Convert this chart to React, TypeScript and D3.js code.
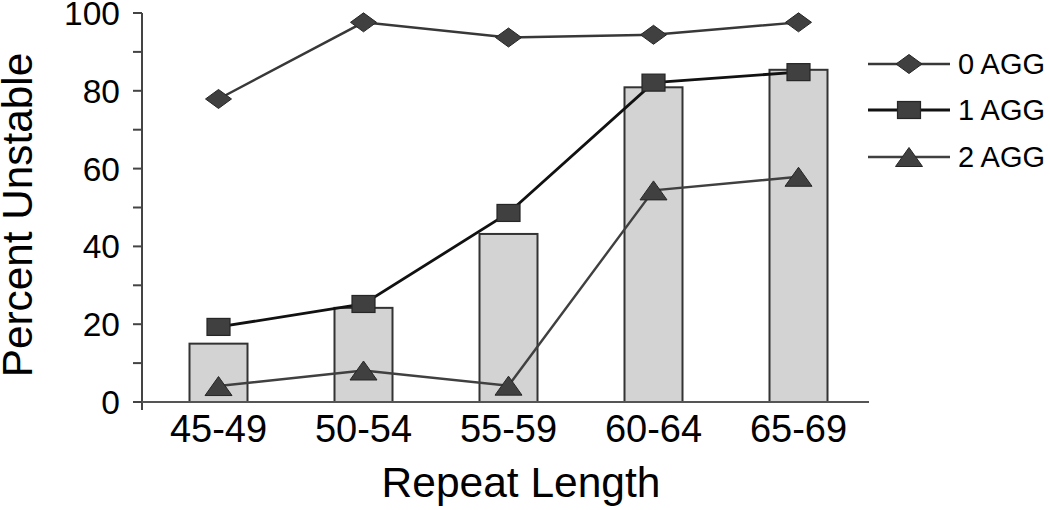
import React from "react";
import * as d3 from "d3";

const categories = ["45-49", "50-54", "55-59", "60-64", "65-69"];
const barValues = [15, 24.2, 43.2, 80.9, 85.4];
const agg0 = [77.9, 97.6, 93.7, 94.4, 97.6];
const agg1 = [19.3, 25.2, 48.6, 82.1, 84.8];
const agg2 = [4.1, 8.1, 4.2, 54.4, 57.9];
const yTicks = [0, 20, 40, 60, 80, 100];
const yMinorTicks = [10, 30, 50, 70, 90];
const seriesNames = ["0 AGG", "1 AGG", "2 AGG"];

const FONT = "'Liberation Sans', Arial, sans-serif";

type Shape = "diamond" | "square" | "triangle";

function Marker({ shape, x, y }: { shape: Shape; x: number; y: number }) {
  const fill = "#404040";
  const stroke = "#262626";
  if (shape === "diamond") {
    const w = 13, h = 9.5;
    return (
      <polygon
        points={`${x - w},${y} ${x},${y - h} ${x + w},${y} ${x},${y + h}`}
        fill={fill}
        stroke={stroke}
        strokeWidth={1}
      />
    );
  }
  if (shape === "square") {
    const w = 11.5, h = 8.5;
    return <rect x={x - w} y={y - h} width={2 * w} height={2 * h} fill={fill} stroke={stroke} strokeWidth={1.2} />;
  }
  const w = 13.5, h = 9.5;
  return (
    <polygon
      points={`${x - w},${y + h} ${x},${y - h} ${x + w},${y + h}`}
      fill={fill}
      stroke={stroke}
      strokeWidth={1}
    />
  );
}

export default function App() {
  const width = 1050;
  const height = 510;
  const x = d3.scaleBand<string>().domain(categories).range([146, 871]).paddingInner(0.6).paddingOuter(0.3);
  const y = d3.scaleLinear().domain([0, 100]).range([402, 13]);
  const cx = (c: string) => (x(c) as number) + x.bandwidth() / 2;

  const series = [
    { name: seriesNames[0], values: agg0, shape: "diamond" as Shape, color: "#383838", lw: 2.4 },
    { name: seriesNames[1], values: agg1, shape: "square" as Shape, color: "#111111", lw: 2.8 },
    { name: seriesNames[2], values: agg2, shape: "triangle" as Shape, color: "#404040", lw: 2.4 },
  ];

  const line = d3
    .line<number>()
    .x((_, i) => cx(categories[i]))
    .y((d) => y(d));

  const axisX = 142;
  const legendY = [64, 110, 157];

  return (
    <svg
      width={width}
      height={height}
      style={{ position: "absolute", left: 0, top: 0, background: "#fff" }}
      fontFamily={FONT}
    >
      {/* bars */}
      {categories.map((c, i) => (
        <rect
          key={c}
          x={x(c)}
          y={y(barValues[i])}
          width={x.bandwidth()}
          height={y(0) - y(barValues[i])}
          fill="#d3d3d3"
          stroke="#333"
          strokeWidth={2}
        />
      ))}

      {/* axes */}
      <line x1={axisX} x2={axisX} y1={y(100)} y2={410} stroke="#444" strokeWidth={2} />
      <line x1={133} x2={869} y1={y(0)} y2={y(0)} stroke="#555" strokeWidth={2} />
      {yTicks.concat(yMinorTicks).map((t) => (
        <line key={"t" + t} x1={133} x2={axisX} y1={y(t)} y2={y(t)} stroke="#444" strokeWidth={2} />
      ))}
      {yTicks.map((t) => (
        <text
          key={"l" + t}
          x={120}
          y={y(t)}
          dy="0.36em"
          textAnchor="end"
          fontSize={33.5}
          fill="#000"
        >
          {t}
        </text>
      ))}
      {categories.map((c) => (
        <text key={"c" + c} x={cx(c)} y={442} textAnchor="middle" fontSize={38} fill="#000">
          {c}
        </text>
      ))}

      {/* axis titles */}
      <text x={521} y={497} textAnchor="middle" fontSize={42.5} fill="#000">
        Repeat Length
      </text>
      <text
        transform={`translate(32, 215) rotate(-90)`}
        textAnchor="middle"
        fontSize={42.3}
        fill="#000"
      >
        Percent Unstable
      </text>

      {/* lines */}
      {series.map((s) => (
        <path key={"p" + s.name} d={line(s.values) || ""} fill="none" stroke={s.color} strokeWidth={s.lw} />
      ))}
      {series.map((s) =>
        s.values.map((v, i) => <Marker key={s.name + i} shape={s.shape} x={cx(categories[i])} y={y(v)} />)
      )}

      {/* legend */}
      {series.map((s, i) => (
        <g key={"lg" + s.name}>
          <line x1={868} x2={950} y1={legendY[i]} y2={legendY[i]} stroke={s.color} strokeWidth={s.lw} />
          <Marker shape={s.shape} x={909} y={legendY[i]} />
          <text x={958} y={legendY[i]} dy="0.36em" fontSize={29} fill="#000">
            {s.name}
          </text>
        </g>
      ))}
    </svg>
  );
}
